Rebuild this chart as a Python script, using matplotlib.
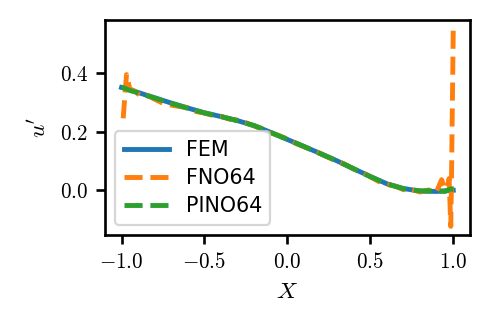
import numpy as np
import matplotlib
matplotlib.use("Agg")
import matplotlib.pyplot as plt
from matplotlib.ticker import FuncFormatter

plt.rcParams["mathtext.fontset"] = "cm"

# ---- data ----
x_fem = np.linspace(-1.0, 1.0, 21)
u_fem = [0.350, 0.333, 0.315, 0.297, 0.280, 0.264, 0.251, 0.237, 0.220, 0.197,
         0.173, 0.149, 0.125, 0.100, 0.073, 0.047, 0.022, 0.006, -0.003, -0.004, 0.000]

x_pino = [-1.0, -0.95, -0.9, -0.8, -0.7, -0.6, -0.5, -0.4, -0.3, -0.2, -0.1,
          0.0, 0.1, 0.2, 0.3, 0.4, 0.5, 0.6, 0.7, 0.8, 0.9, 0.95, 0.98, 1.0]
u_pino = [0.352, 0.340, 0.332, 0.314, 0.296, 0.279, 0.263, 0.251, 0.237, 0.220, 0.197,
          0.173, 0.149, 0.124, 0.100, 0.073, 0.046, 0.022, 0.005, -0.002, -0.002, -0.004, 0.004, 0.003]

x_fno = [-0.99, -0.97, -0.95, -0.92, -0.88, -0.84, -0.80, -0.75, -0.70, -0.65,
         -0.60, -0.55, -0.50, -0.45, -0.40, -0.35, -0.30, -0.25, -0.20, -0.15,
         -0.10, -0.05, 0.00, 0.05, 0.10, 0.15, 0.20, 0.25, 0.30, 0.35,
         0.40, 0.45, 0.50, 0.55, 0.60, 0.65, 0.70, 0.75, 0.80, 0.85,
         0.90, 0.93, 0.95, 0.965, 0.975, 0.985, 0.99, 1.0]
u_fno = [0.245, 0.394, 0.345, 0.338, 0.318, 0.322, 0.310, 0.296, 0.290, 0.285,
         0.282, 0.268, 0.263, 0.255, 0.252, 0.242, 0.239, 0.230, 0.219, 0.210,
         0.195, 0.186, 0.175, 0.160, 0.148, 0.138, 0.125, 0.111, 0.099, 0.088,
         0.072, 0.062, 0.046, 0.030, 0.020, 0.014, 0.002, 0.002, -0.006, 0.001,
         -0.004, 0.036, 0.004, 0.012, 0.040, -0.123, 0.070, 0.547]

fig = plt.figure(figsize=(477 / 160, 317 / 160), dpi=160)
ax = fig.add_axes([0.220, 0.259, 0.765, 0.678])

ax.plot(x_fem, u_fem, color="tab:blue", lw=2.2, label="FEM")
ax.plot(x_fno, u_fno, color="tab:orange", lw=2.2, ls="--", label="FNO64")
ax.plot(x_pino, u_pino, color="tab:green", lw=2.2, ls="--", label="PINO64")

fmt = FuncFormatter(lambda v, p: "$%.1f$" % v if abs(v) > 1e-9 else "$0.0$")
ax.xaxis.set_major_formatter(fmt)
ax.yaxis.set_major_formatter(fmt)
ax.set_xticks([-1.0, -0.5, 0.0, 0.5, 1.0])
ax.set_yticks([0.0, 0.2, 0.4])
ax.set_ylim(-0.152, 0.58)
ax.tick_params(labelsize=9.5, width=1.2, length=4)
for s in ax.spines.values():
    s.set_linewidth(1.2)

ax.set_xlabel("$X$", fontsize=10.5)
ax.set_ylabel("$u'$", fontsize=10.5)

ax.legend(loc="lower left", fontsize=9.3, handlelength=2.2, borderpad=0.4,
          labelspacing=0.4, borderaxespad=0.5, fancybox=True)

fig.savefig("out.png", dpi=160)
